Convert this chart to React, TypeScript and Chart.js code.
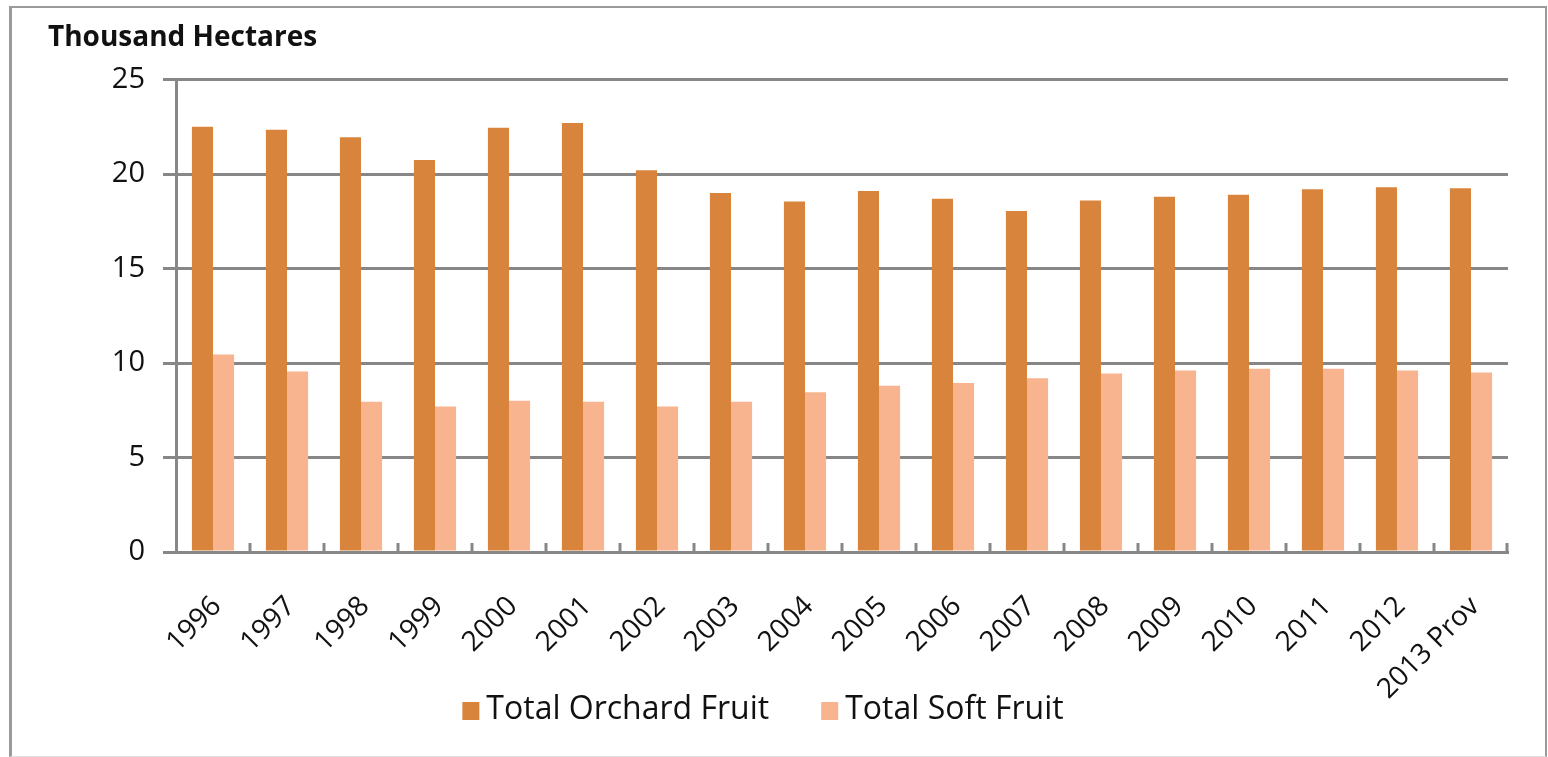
import React, { useEffect, useRef } from "react";
import { Chart, registerables } from "chart.js";

Chart.register(...registerables);

const categories = ["1996", "1997", "1998", "1999", "2000", "2001", "2002", "2003", "2004", "2005", "2006", "2007", "2008", "2009", "2010", "2011", "2012", "2013 Prov"];
const orchardFruit = [22.5, 22.35, 21.95, 20.75, 22.45, 22.7, 20.2, 19.0, 18.55, 19.1, 18.7, 18.05, 18.6, 18.8, 18.9, 19.2, 19.3, 19.25];
const softFruit = [10.45, 9.55, 7.95, 7.7, 8.0, 7.95, 7.7, 7.95, 8.45, 8.8, 8.95, 9.2, 9.45, 9.6, 9.7, 9.7, 9.6, 9.5];
const seriesNames = ["Total Orchard Fruit", "Total Soft Fruit"];
const yTicks = [0, 5, 10, 15, 20, 25];

const ORCHARD = "#D9843D";
const SOFT = "#F8B48E";
const GRID = "#878787";
const FONT = "'Open Sans', Lato, sans-serif";

const innerTicks = {
  id: "innerTicks",
  afterDatasetsDraw(chart: any) {
    const xs = chart.scales.x;
    const n = chart.data.labels.length;
    const ctx = chart.ctx;
    ctx.save();
    ctx.strokeStyle = GRID;
    ctx.lineWidth = 3;
    const bottom = xs.top;
    for (let i = 1; i <= n; i++) {
      let x: number;
      if (i === n) x = xs.right - 1;
      else x = (xs.getPixelForTick(i - 1) + xs.getPixelForTick(i)) / 2;
      ctx.beginPath();
      ctx.moveTo(x, bottom);
      ctx.lineTo(x, bottom - 9);
      ctx.stroke();
    }
    ctx.restore();
  },
};

const bottomLegend = {
  id: "bottomLegend",
  afterDraw(chart: any) {
    const ctx = chart.ctx;
    const ds = chart.data.datasets;
    ctx.save();
    ctx.font = `32px ${FONT}`;
    const box = 17;
    const gap = 7;
    const itemGap = 52;
    const widths = ds.map((d: any) => ctx.measureText(d.label).width);
    const total = widths.reduce((a: number, w: number) => a + box + gap + w, 0) + itemGap * (ds.length - 1);
    let x = 763 - total / 2;
    const baseline = 719;
    ds.forEach((d: any, i: number) => {
      ctx.fillStyle = d.backgroundColor;
      ctx.fillRect(x, 702, box, 18);
      x += box + gap;
      ctx.fillStyle = "#111";
      ctx.textBaseline = "alphabetic";
      ctx.textAlign = "left";
      ctx.fillText(d.label, x, baseline);
      x += widths[i] + itemGap;
    });
    ctx.restore();
  },
};

export default function App() {
  const ref = useRef<HTMLCanvasElement | null>(null);
  useEffect(() => {
    if (!ref.current) return;
    const chart = new Chart(ref.current, {
      type: "bar",
      data: {
        labels: categories,
        datasets: [
          { label: seriesNames[0], data: orchardFruit, backgroundColor: ORCHARD, borderWidth: 0 },
          { label: seriesNames[1], data: softFruit, backgroundColor: SOFT, borderWidth: 0 },
        ],
      },
      plugins: [innerTicks, bottomLegend],
      options: {
        responsive: false,
        animation: false,
        devicePixelRatio: 1,
        layout: { padding: { left: 48, right: 40, top: 0, bottom: 0 } },
        datasets: { bar: { categoryPercentage: 0.57, barPercentage: 1 } },
        plugins: {
          title: {
            display: true,
            text: "Thousand Hectares",
            align: "start",
            color: "#111",
            font: { family: FONT, size: 28, weight: "bold" },
            padding: { top: 21, bottom: 25 },
          },
          legend: { display: false },
          tooltip: { enabled: false },
        },
        scales: {
          x: {
            grid: { display: false },
            border: { display: true, color: GRID, width: 3 },
            ticks: {
              color: "#111",
              font: { family: FONT, size: 28 },
              minRotation: 45,
              maxRotation: 45,
              padding: 30,
              labelOffset: 4,
              autoSkip: false,
            },
            afterFit: (s: any) => { s.height = 205; },
          },
          y: {
            min: 0,
            max: 25,
            afterBuildTicks: (s: any) => { s.ticks = yTicks.map((v) => ({ value: v })); },
            grid: { color: GRID, lineWidth: 3, tickLength: 13, drawTicks: true },
            border: { display: true, color: GRID, width: 3 },
            ticks: {
              color: "#111",
              font: { family: FONT, size: 29 },
              padding: 18,
            },
            afterFit: (s: any) => { s.width = 128; },
          },
        },
      },
    });
    return () => chart.destroy();
  }, []);
  return (
    <div style={{ position: "absolute", left: 0, top: 0, width: 1548, height: 757, background: "#fff" }}>
      <canvas ref={ref} width={1548} height={757} style={{ position: "absolute", left: 0, top: 0 }} />
      <div
        style={{
          position: "absolute",
          left: 9,
          top: 6,
          width: 1538,
          height: 751,
          boxSizing: "border-box",
          borderTop: "2px solid #9a9a9a",
          borderLeft: "3px solid #9a9a9a",
          borderRight: "2px solid #9a9a9a",
          borderBottom: "1px solid #e0e0e0",
          pointerEvents: "none",
        }}
      />
    </div>
  );
}
